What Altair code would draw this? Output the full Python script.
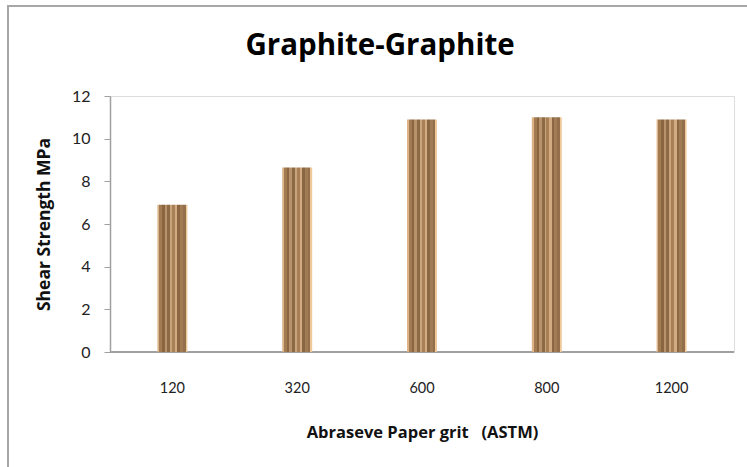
import altair as alt
import pandas as pd

# Shear strength of graphite-graphite joints by abrasive paper grit
grits = ["120", "320", "600", "800", "1200"]
strength = [6.9, 8.65, 10.9, 11.0, 10.9]
title_text = ["Graphite-Graphite"]

df = pd.DataFrame({"grit": grits, "strength": strength})

LABEL_FONT = "Lato"
TITLE_FONT = "Open Sans"

# vertical stripe texture for the bars (hard-edged gradient stops)
stripe_cols = ["#dcb487", "#a27b53", "#8a6540", "#b8926a", "#8c6a45",
               "#c9a37a", "#a88058", "#d2ab82", "#8a6642", "#a17b53",
               "#93704b", "#f0c99a"]
stripe_w = [0.06, 0.10, 0.08, 0.09, 0.10, 0.06, 0.10, 0.08, 0.08, 0.10, 0.09, 0.06]
stops = []
pos = 0.0
for c, w in zip(stripe_cols, stripe_w):
    stops.append(alt.GradientStop(offset=round(pos, 4), color=c))
    pos = min(1.0, pos + w / sum(stripe_w))
    stops.append(alt.GradientStop(offset=round(pos, 4), color=c))

bars = alt.Chart(df).mark_bar(
    width=30,
    color=alt.Gradient(gradient="linear", stops=stops, x1=0, x2=1, y1=0, y2=0),
).encode(
    x=alt.X("grit:N", sort=grits,
            scale=alt.Scale(paddingInner=0, paddingOuter=0),
            axis=alt.Axis(title="Abraseve Paper grit\u00a0\u00a0\u00a0(ASTM)", labelAngle=0,
                          ticks=False, domain=False, labelPadding=29,
                          titlePadding=30, labelFontSize=14.5, titleFontSize=16.5,
                          titleFontWeight="bold", labelColor="#222222",
                          titleColor="#111111", labelFont=LABEL_FONT,
                          titleFont=TITLE_FONT)),
    y=alt.Y("strength:Q",
            scale=alt.Scale(domain=[0, 12], nice=False),
            axis=alt.Axis(title="Shear Strength MPa", values=[0, 2, 4, 6, 8, 10, 12],
                          tickSize=6, tickColor="#a0a0a0", domainColor="#a0a0a0",
                          domainWidth=1.5, gridColor="#a0a0a0", gridWidth=1.5,
                          labelFontSize=16, titleFontSize=17.5, titleFontWeight="bold",
                          labelColor="#222222", titleColor="#111111",
                          labelPadding=14, titlePadding=18,
                          labelFont=LABEL_FONT, titleFont=TITLE_FONT)),
)

# x baseline along zero
base = alt.Chart(df).mark_rule(color="#a0a0a0", strokeWidth=1.5).encode(
    y=alt.datum(0)
)

# chart title drawn as a text mark above the plot
title = alt.Chart(pd.DataFrame({"t": title_text})).mark_text(
    font=TITLE_FONT, fontSize=29.5, fontWeight="bold", color="#000000",
    align="center", baseline="middle", clip=False,
).encode(text="t:N", x=alt.value(270), y=alt.value(-50))

# outer chart frame
frame_left = alt.Chart(df).mark_rect(color="#a6a6a6", clip=False).encode(
    x=alt.value(-103), x2=alt.value(-101), y=alt.value(-91), y2=alt.value(380)
)
frame_top = alt.Chart(df).mark_rect(color="#a6a6a6", clip=False).encode(
    x=alt.value(-103), x2=alt.value(640), y=alt.value(-91), y2=alt.value(-89.5)
)

chart = alt.layer(base, bars, title, frame_left, frame_top).properties(
    width=624,
    height=256,
    padding={"left": 110, "top": 96, "right": 13, "bottom": 115},
    autosize=alt.AutoSizeParams(type="none"),
).configure_view(stroke=None).configure(background="white")

chart.save("out.html", embed_options={"renderer": "svg", "actions": False})
